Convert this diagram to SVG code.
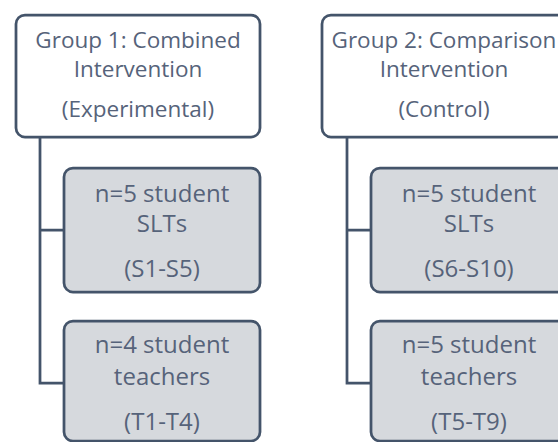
<svg xmlns="http://www.w3.org/2000/svg" width="558" height="442" viewBox="0 0 558 442">
<style>
.box{fill:#ffffff;stroke:#44546a;stroke-width:2.75}
.sub{fill:#d6d9dd;stroke:#44546a;stroke-width:2.75}
.conn{fill:none;stroke:#44546a;stroke-width:2.75}
text{font-family:"Open Sans","Liberation Sans",sans-serif;font-size:22.5px;fill:#56637a;text-anchor:middle}
.s{font-size:24px}
</style>
<rect width="558" height="442" fill="#ffffff"/>
<g id="connectors">
<path class="conn" d="M40,137 V383 H64 M40,230 H64"/>
<path class="conn" d="M347,137 V383 H371 M347,230 H371"/>
</g>
<g id="group1">
<rect class="box" x="16" y="15" width="244" height="122" rx="9"/>
<text x="138" y="48">Group 1: Combined</text>
<text x="138" y="77">Intervention</text>
<text x="138" y="117">(Experimental)</text>
</g>
<g id="group2">
<rect class="box" x="322" y="15" width="244" height="122" rx="9"/>
<text x="444" y="48">Group 2: Comparison</text>
<text x="444" y="77">Intervention</text>
<text x="444" y="117">(Control)</text>
</g>
<g id="g1-slts">
<rect class="sub" x="64" y="168" width="196" height="124" rx="9"/>
<text class="s" x="162" y="202">n=5 student</text>
<text class="s" x="162" y="232">SLTs</text>
<text class="s" x="162" y="277">(S1-S5)</text>
</g>
<g id="g1-teachers">
<rect class="sub" x="64" y="321" width="196" height="120" rx="9"/>
<text class="s" x="162" y="353">n=4 student</text>
<text class="s" x="162" y="385">teachers</text>
<text class="s" x="162" y="430">(T1-T4)</text>
</g>
<g id="g2-slts">
<rect class="sub" x="371" y="168" width="196" height="124" rx="9"/>
<text class="s" x="469" y="202">n=5 student</text>
<text class="s" x="469" y="232">SLTs</text>
<text class="s" x="469" y="277">(S6-S10)</text>
</g>
<g id="g2-teachers">
<rect class="sub" x="371" y="321" width="196" height="120" rx="9"/>
<text class="s" x="469" y="353">n=5 student</text>
<text class="s" x="469" y="385">teachers</text>
<text class="s" x="469" y="430">(T5-T9)</text>
</g>
</svg>
